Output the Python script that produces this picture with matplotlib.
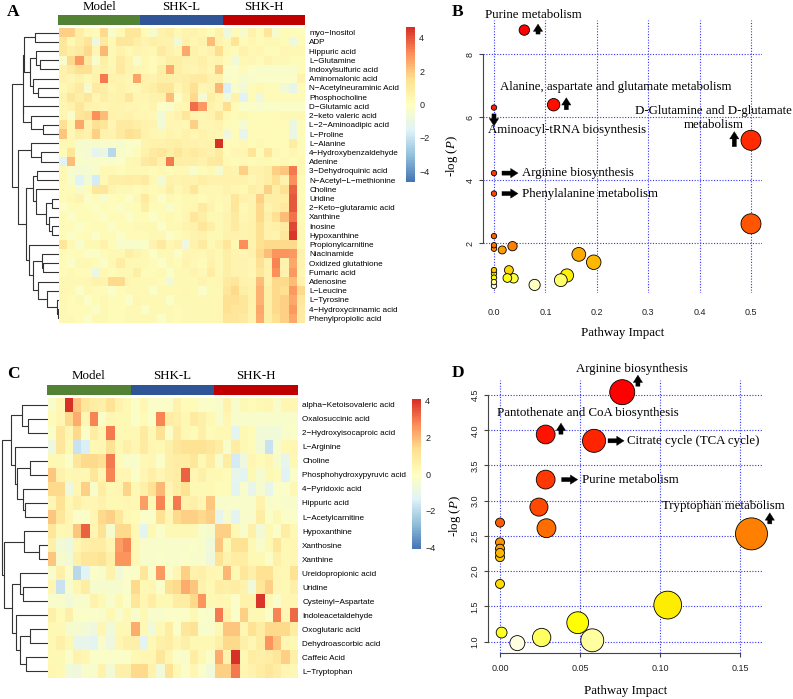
import numpy as np
import matplotlib
matplotlib.use("Agg")
import matplotlib.pyplot as plt
from matplotlib.colors import LinearSegmentedColormap, ListedColormap, hsv_to_rgb
from matplotlib import transforms

plt.rcParams['font.family'] = ['Liberation Sans', 'DejaVu Sans']
plt.rcParams['mathtext.fontset'] = 'custom'
plt.rcParams['mathtext.rm'] = 'Liberation Serif'
plt.rcParams['mathtext.it'] = 'Liberation Serif:italic'

# ---------------- data ----------------
groups = ["Model", "SHK-L", "SHK-H"]
group_colors = ["#548235", "#2F5597", "#C00000"]

a_rows = ["myo-Inositol", "ADP", "Hippuric acid", "L-Glutamine", "Indoxylsulfuric acid",
          "Aminomalonic acid", "N-Acetylneuraminic Acid", "Phosphocholine", "D-Glutamic acid",
          "2-keto valeric acid", "L-2-Aminoadipic acid", "L-Proline", "L-Alanine",
          "4-Hydroxybenzaldehyde", "Adenine", "3-Dehydroquinic acid", "N-Acetyl-L-methionine",
          "Choline", "Uridine", "2-Keto-glutaramic acid", "Xanthine", "Inosine", "Hypoxanthine",
          "Propionylcarnitine", "Niacinamide", "Oxidized glutathione", "Fumaric acid", "Adenosine",
          "L-Leucine", "L-Tyrosine", "4-Hydroxycinnamic acid", "Phenylpropiolic acid"]

a_values = [
    [1.8, 1.8, 0.8, 0.3, 0.2, 1.6, -0.3, 0.3, 1.2, 1.2, 0.2, -0.4, 0.6, 0.8, 0.3, 0.5, 0.6, 0.4, 0.2, 0.6, -0.9, 0.2, -0.4, 0.6, 0.2, 1.2, -0.4, 0.2, 0.1, 0.1],
    [1.2, 0.3, 0.8, 1.3, -0.9, 1.0, 0.3, 1.2, 1.2, 0.8, 0.5, 0.8, 0.6, 0.6, -0.7, 0.6, 0.4, 0.6, 2.2, 0.5, 0.3, 1.3, 0.2, 0.4, 0.2, 0.3, 0.3, 0.2, -0.9, 0.2],
    [1.2, 0.8, 1.0, 1.6, 0.4, 2.3, 0.3, 0.6, 0.3, 0.5, 0.4, 0.3, 1.0, 0.6, 0.4, 2.6, 0.6, 0.4, 0.6, 1.5, 0.3, 0.2, 0.6, 0.3, 0.4, 0.2, 0.2, 0.4, 0.3, 0.3],
    [-0.3, 1.6, 2.8, 1.0, -0.3, 0.8, 0.3, 1.0, 0.5, -0.3, 0.3, 0.2, 0.4, 0.8, 0.8, 0.6, 0.5, 0.7, 0.4, 0.5, 0.2, -0.7, 0.3, 0.4, 0.2, 0.5, 0.3, 0.3, 0.2, 0.2],
    [0.6, 1.0, 1.4, 1.4, 0.5, 0.6, 0.4, 1.1, 0.5, 0.4, 0.3, 0.2, 0.8, 2.6, 0.8, 0.5, 0.4, 0.6, 0.4, 2.0, -0.2, -0.2, 0.2, -0.2, -0.3, -0.3, -0.3, -0.3, -0.3, 0.2],
    [0.6, 0.4, 0.6, 0.3, 0.6, 3.4, 0.6, 0.5, 0.4, 2.7, 0.6, 0.5, 0.8, 0.8, 0.7, 0.8, 1.0, 1.0, 0.6, 0.6, -0.3, -0.2, -0.4, -0.3, -0.2, -0.2, -0.2, -0.2, -0.2, 0.6],
    [0.3, 0.6, 1.0, -0.4, 1.0, 0.8, 0.4, 0.6, 0.4, 0.3, 0.6, 0.8, 1.2, 1.2, 0.4, 0.8, 1.4, 0.4, 0.5, 2.3, -1.6, -0.3, -0.6, 0.2, 0.3, 0.2, 0.2, -0.6, -1.2, 0.2],
    [0.5, 1.2, 0.8, 1.2, 0.4, 0.8, 0.5, 0.6, 1.2, 0.4, 0.4, 0.6, 0.6, 2.2, -0.2, 0.6, 1.6, -0.5, 0.8, 0.4, -0.6, 0.6, -1.4, 0.2, -0.8, 0.2, 0.2, 0.2, 0.2, 0.2],
    [0.4, 0.6, 1.2, 0.6, 0.5, 0.4, 0.5, 0.5, 0.4, 0.4, 0.3, 0.5, -0.2, -0.3, 0.3, 0.4, 3.6, 2.8, 0.6, 0.4, 1.5, 0.2, -0.2, -0.2, -0.3, -0.2, -0.2, -0.2, -0.2, -0.2],
    [0.4, -0.2, 1.2, 1.4, 3.0, 2.2, 0.6, 0.5, 0.6, 0.4, 0.4, 0.3, -0.7, 0.4, 0.6, 1.2, 0.5, 0.4, 0.5, 1.2, 0.3, 0.2, 0.3, 0.2, 0.2, 0.2, 0.2, 0.3, 0.3, 0.3],
    [1.4, 0.3, 2.6, 0.6, 1.4, 1.2, 0.4, 1.0, 1.0, 0.8, 0.6, 0.5, -0.7, 0.4, 0.4, 0.3, 1.8, 0.4, 0.4, 0.5, 0.2, 0.1, -0.5, 0.2, 0.2, 0.2, 0.2, 0.2, -1.0, 0.2],
    [2.0, 0.3, 0.8, 0.6, 1.8, 0.6, 0.5, 1.0, 1.4, 1.3, 0.6, 0.4, 0.3, 0.5, 0.4, 0.6, 0.4, 0.6, 0.4, 0.4, -0.8, 0.2, -1.2, 0.2, 0.2, 0.2, 0.2, 0.2, -1.0, 0.2],
    [0.3, 0.3, -0.4, -0.4, -0.4, -0.3, -0.3, -0.4, -0.2, -0.2, 0.5, 0.6, 0.6, 0.7, 0.8, 0.6, 0.6, 0.5, 0.6, 4.6, 0.2, 0.2, 0.3, 0.2, 0.3, 0.2, 0.2, 0.2, 0.9, 0.2],
    [0.2, 1.2, -0.3, -0.5, -1.3, -1.0, -2.3, -0.3, -0.2, 0.2, 0.6, 1.0, 1.2, 0.8, 1.2, 0.8, 1.0, 0.8, 0.6, 1.0, 0.2, 0.4, 0.4, 1.3, 0.2, 1.2, 0.3, 0.2, 0.4, 0.2],
    [-1.4, 2.2, -0.3, -0.3, -0.3, -0.2, -0.3, -0.2, 0.3, 0.4, 1.0, 1.2, 0.6, 3.4, 0.8, 0.7, 0.8, 0.6, 1.0, 1.1, 0.3, 0.2, 0.3, 0.2, 0.3, 0.3, 0.2, 0.3, 0.2, 0.3],
    [0.3, -0.4, -0.5, -0.5, -0.3, 0.3, 0.3, 0.2, 0.3, 0.3, 0.3, 0.2, 0.3, 0.2, 0.3, 0.3, -0.3, 0.2, 0.3, -0.4, 0.6, 0.5, 1.8, 0.6, 0.6, 0.8, 1.8, 2.0, 3.4, 0.3],
    [0.3, -0.3, -1.4, -0.6, -1.7, 0.3, 0.8, 0.8, 0.9, 0.8, 1.0, 0.3, -0.6, 0.6, 0.5, 0.6, 0.6, 0.8, 0.6, 0.6, 0.6, 0.6, 0.6, 0.4, 0.6, 0.8, 1.4, 0.6, 3.0, 0.2],
    [0.2, 0.2, -0.4, 0.2, 1.2, 1.2, 0.5, 0.3, 0.3, 0.2, 0.3, 0.2, 0.3, 0.8, 0.3, 0.6, 1.2, 0.4, 0.3, 0.4, 0.6, 0.4, 0.3, 0.8, 0.6, 1.8, 0.8, 1.4, 3.8, 0.2],
    [0.2, 0.3, 0.5, -0.2, 0.2, -0.3, 0.1, 0.2, -0.2, 0.3, 1.0, 0.3, -0.2, 0.3, 0.2, 0.3, 0.3, 0.2, 0.4, 0.3, 0.4, 1.2, 0.6, 0.5, 1.8, 0.8, 0.8, 0.9, 4.0, 0.2],
    [-0.2, 0.2, 0.2, 0.1, -0.2, 0.2, 0.1, -0.2, 0.2, 0.2, 0.8, 0.2, 0.2, -0.3, 0.2, 0.3, 0.4, 1.0, 0.5, 0.2, 0.4, 1.2, 0.3, 0.5, 1.6, 0.5, 0.8, 1.1, 4.0, 0.3],
    [0.2, -0.2, 0.2, 0.2, 0.1, -0.2, 0.2, 0.2, -0.2, 0.2, 0.2, -0.2, 0.2, 0.3, 0.2, 0.4, 1.2, 0.8, 0.3, 0.3, 0.5, 1.0, 0.4, 0.5, 1.6, 0.7, 1.4, 2.2, 3.5, 0.2],
    [0.2, 0.2, -0.2, 0.1, 0.2, 0.2, -0.2, 0.2, 0.2, 0.3, 0.3, 0.3, -0.2, 0.3, 0.3, 0.5, 0.6, 1.2, 0.8, 0.3, 0.5, 1.0, 0.5, 0.6, 1.4, 0.6, 0.7, 1.0, 4.2, 0.3],
    [0.2, -0.2, 0.1, 0.2, -0.2, 0.2, 0.2, -0.2, 0.2, 0.2, 0.2, 0.3, 0.3, -0.2, 0.2, 0.3, 0.5, 0.6, 0.3, 0.3, 0.6, 0.6, 0.5, 0.6, 1.4, 0.6, 0.5, 1.2, 4.5, 0.3],
    [1.2, 0.3, -0.3, 0.3, 0.3, 0.6, 0.2, -0.3, -0.3, -0.3, -0.2, 0.5, 1.0, 0.4, 0.6, -0.8, 0.6, 1.0, 0.3, 0.6, 1.2, 0.3, 3.0, 0.5, 1.4, 1.6, 1.6, 1.6, 1.6, 0.3],
    [0.2, 0.1, 0.2, -0.2, -0.2, 0.2, 0.3, 0.3, 0.8, 0.5, 0.3, -0.2, 0.3, 0.3, -0.2, 0.4, 0.4, 0.3, 0.5, 0.3, 0.8, 0.5, 0.4, 0.6, 1.6, 2.2, 2.9, 2.9, 2.8, 0.6],
    [0.2, -0.2, 0.3, 0.3, 0.2, -0.2, 0.3, 0.9, 0.3, 0.3, 0.3, 0.2, -0.2, 0.3, 0.2, 0.5, 0.3, 0.2, 0.6, 0.3, 0.8, 0.5, 0.5, 0.4, 1.4, 0.6, 3.2, 0.6, 2.6, 0.5],
    [0.2, 0.3, 0.2, 0.2, -1.0, 0.3, 0.2, 0.3, 0.3, 0.8, 0.2, 0.2, 0.3, -0.2, 0.3, 0.3, 0.5, 0.3, 0.9, 0.3, 0.8, 0.5, 0.5, 0.4, 1.2, 0.6, 3.0, 0.6, 2.8, 0.4],
    [0.3, 0.3, 0.3, 0.4, 0.6, 0.5, 1.6, 1.6, 0.4, 0.3, 0.3, 0.3, 0.2, -0.7, 0.3, 0.3, 0.3, 0.5, 0.3, 0.4, 1.0, 1.2, 0.6, 0.5, 2.2, 0.6, 1.6, 1.6, 2.2, 0.6],
    [0.4, 0.3, -0.2, 0.3, 0.2, 0.2, -0.2, 0.2, 0.3, 0.3, 0.3, -0.2, 0.3, 0.3, 0.3, 0.4, 0.3, -0.2, 0.3, 0.3, 1.2, 1.6, 0.8, 0.6, 2.4, 0.8, 1.6, 1.4, 2.8, 1.6],
    [0.3, 0.2, 0.3, -0.2, 0.2, 0.3, 0.2, 0.2, -0.2, 0.4, 0.3, 0.3, 0.3, -0.2, 0.3, 0.3, 0.3, 0.3, 0.3, 0.4, 1.4, 1.4, 1.2, 0.6, 2.4, 0.8, 1.6, 1.8, 2.6, 1.2],
    [0.3, 0.2, 0.2, 0.2, -0.2, 0.3, 0.2, 0.2, 0.3, 0.3, -0.2, 0.3, 0.3, 0.3, 0.2, 0.3, 0.3, 0.3, 0.3, 0.4, 1.4, 1.2, 1.2, 0.5, 2.6, 0.8, 1.6, 1.8, 2.8, 1.0],
    [0.3, 0.3, 0.2, -0.2, 0.3, 0.3, 0.2, 0.2, 0.3, 0.3, 0.3, 0.3, -0.2, 0.3, 0.2, 0.3, 0.3, 0.3, 0.3, 0.4, 1.2, 1.2, 1.0, 0.5, 2.5, 0.8, 1.4, 1.8, 2.6, 1.0],
]

# row dendrogram: (left, right, merge height)
a_tree = (((((0, 1, 24), ((2, (3, 4, 19), 23), (5, (6, 7, 21.3), 25.7), 29), 35),
            (8, (9, (10, 11, 15.7), 28.3), 35.7), 36.3),
           ((12, (13, 14, 18.3), 28.3),
            (((15, 16, 22.3), (17, ((18, 19, 7.3), (20, (21, 22, 7.3), 10), 13.3), 23), 25.7),
             (23, ((24, (25, 26, 15.7), 17.3), (27, (28, (29, (30, 31, 1), 1.6), 12.3), 20.7), 25.7), 29.7),
             33), 40.7), 47.3))

c_rows = ["alpha-Ketoisovaleric acid", "Oxalosuccinic acid", "2-Hydroxyisocaproic acid", "L-Arginine",
          "Choline", "Phosphohydroxypyruvic acid", "4-Pyridoxic acid", "Hippuric acid", "L-Acetylcarnitine",
          "Hypoxanthine", "Xanthosine", "Xanthine", "Ureidopropionic acid", "Uridine", "Cysteinyl-Aspartate",
          "Indoleacetaldehyde", "Oxoglutaric acid", "Dehydroascorbic acid", "Caffeic Acid", "L-Tryptophan"]

c_values = [
    [-0.3, 0.4, 4.2, 1.8, 1.0, 0.8, 0.6, 1.2, 0.5, 0.3, -0.2, 0.4, -0.2, -0.2, -0.2, 0.5, 0.2, 0.2, -0.2, -0.2, -0.3, 0.5, -0.3, 0.3, 0.2, 0.3, 0.4, -0.3, 0.4, 0.4],
    [0.2, 0.4, 1.4, 2.2, 0.4, 2.8, -0.2, 0.4, 0.3, 0.3, -0.2, 0.2, -0.2, 2.8, 0.8, 0.6, 0.3, 0.9, 0.6, 0.3, -0.3, 0.4, -0.3, -0.3, -0.3, -0.3, -0.3, -0.3, -0.3, -0.3],
    [-0.2, 1.0, 0.4, 1.4, -0.2, 0.8, 0.4, 3.0, 0.3, 0.3, 0.3, 0.9, 0.3, 1.3, -0.2, 0.9, 0.3, 0.2, 0.6, 0.2, 0.3, 0.3, -1.2, 0.3, 0.2, -0.5, -0.6, -0.6, -0.3, -0.2],
    [-0.8, 1.0, 0.3, -1.8, -1.4, 0.3, 0.4, 1.2, 0.3, 0.6, 0.4, 0.9, 0.4, 0.3, 0.6, 1.0, 1.2, 1.2, 1.2, 1.0, 0.8, -0.3, 0.8, 0.3, 0.2, -0.5, -1.8, -0.3, 0.3, 0.4],
    [0.3, 0.3, -0.2, 1.0, 1.4, 1.4, 1.3, 3.0, 0.2, -0.3, -0.3, 0.3, 0.4, -0.2, 0.6, 0.8, 0.8, 1.0, 0.3, 0.8, -0.3, 0.8, -1.5, -0.8, 0.4, 0.2, 0.4, -0.4, -1.0, 0.3],
    [1.8, 0.5, 0.3, 0.4, 0.3, 1.0, 0.4, 2.8, 0.4, 0.4, -0.2, 0.4, 0.6, 0.4, 0.6, 0.8, 3.3, 0.4, 0.6, 0.3, 0.3, 0.2, -1.0, -1.2, 0.3, -0.4, 0.3, 0.2, -1.3, -0.2],
    [1.4, 1.4, -0.7, 0.4, 1.6, -0.3, 0.8, 0.3, 0.4, 1.5, 0.3, 0.6, 1.2, 2.0, 0.4, 0.8, 1.2, 0.3, 0.3, 0.3, 0.2, 0.2, -1.2, -0.3, -1.0, -0.4, -1.0, -0.2, -0.2, 0.3],
    [0.4, 1.2, 0.3, 0.6, 0.4, 0.4, 0.5, 0.3, 0.3, 0.4, 0.3, 2.4, 0.3, 2.8, 0.2, 3.0, 0.5, 0.6, 0.4, 1.8, -0.3, -0.3, -0.3, -0.3, -0.3, 0.5, -0.3, -0.2, -0.3, -0.3],
    [1.8, 1.0, 0.4, -0.2, -0.2, 0.4, 1.4, 1.6, 1.0, 0.3, 0.2, -0.2, -0.2, 1.2, 0.4, 1.4, 1.6, 1.6, 1.4, 1.6, -1.0, -0.4, -1.2, -0.3, -0.3, 0.8, -0.2, 0.3, -0.2, -0.2],
    [1.0, 0.3, 0.4, 1.8, 3.3, 0.4, 1.2, -0.4, 1.4, 1.4, 0.3, -1.2, 0.3, -0.2, 0.3, 0.3, 0.3, 0.3, -0.3, -0.4, 1.6, 1.6, 0.3, -0.3, 0.6, -0.5, 0.3, -0.2, 0.8, 0.3],
    [0.6, -0.5, -0.8, 0.4, 0.6, 0.8, 0.8, 0.4, 2.4, 2.8, 0.3, -0.3, -0.3, -0.3, -0.3, -0.3, -0.3, -0.2, -0.3, -0.6, 1.8, 0.3, 1.2, 1.2, 0.3, -0.3, 0.3, 1.0, 0.3, 0.4],
    [1.8, -0.4, -0.5, 0.6, 1.0, 1.0, 1.2, 0.6, 2.6, 2.6, 0.3, -0.3, -0.3, -0.2, -0.3, -0.3, -0.2, -0.3, -0.3, -0.7, 1.2, 0.5, 0.8, 0.8, 0.3, 0.3, -0.2, 0.6, 0.3, 0.4],
    [-0.3, 0.6, -0.2, -2.0, -1.3, -0.2, -0.3, 0.5, -0.5, -0.2, -0.2, 1.0, -0.2, 2.5, -0.2, 0.4, 1.6, 0.5, 0.6, 0.4, 0.3, 2.0, 0.3, 1.0, 0.6, 1.2, 1.2, 0.4, 0.3, 1.2],
    [0.4, -1.8, -0.3, 0.4, 0.8, -0.4, -0.4, -0.4, -0.4, -0.2, 1.4, 0.3, 0.4, -0.2, 1.3, 1.4, 2.2, 1.8, 0.5, 0.3, 0.8, 0.6, 0.8, 0.5, -0.6, 1.0, 1.6, 0.4, 0.3, 0.6],
    [-0.3, -0.3, -0.6, -0.3, -0.3, 0.5, 0.3, -0.3, 0.3, -0.2, 1.0, 0.4, 0.8, 0.3, 0.3, 0.8, 0.8, 1.4, 2.6, 0.3, 0.4, 0.3, -0.2, 0.5, 0.5, 4.0, 0.3, -0.3, 0.4, 0.4],
    [0.6, 0.2, 0.6, -0.2, -0.2, -0.2, -0.3, 0.3, -0.3, 0.3, -0.3, 0.3, -0.3, -0.3, -0.2, -0.2, -0.2, 0.3, -0.2, -0.3, 3.0, 0.5, -0.2, 1.6, 0.3, 0.3, -0.2, 2.8, 0.4, 3.2],
    [0.3, 0.3, -0.4, -0.4, -0.5, -0.7, 0.4, -0.6, 0.3, 0.3, 2.2, 0.3, -0.6, 0.3, 0.8, -0.2, 1.0, 1.2, -0.3, -0.3, 0.3, 1.8, 1.8, 0.4, 1.2, 0.8, 1.4, 1.4, 1.4, 0.8],
    [0.3, 0.6, 0.3, -1.0, -1.0, -1.2, -0.3, -0.8, 0.4, 0.6, 0.6, -1.2, 0.3, 0.6, 0.8, 0.4, 0.6, 0.3, 0.3, 0.3, 0.6, 1.4, 1.4, 0.6, 0.4, 0.8, 2.6, 1.8, 0.4, 0.3],
    [0.3, 0.3, -0.2, 0.5, 0.4, -0.2, -0.2, -0.2, -0.2, -0.2, 0.3, 0.4, 0.4, 1.0, 0.4, -0.2, -0.3, 0.8, 0.3, -0.2, 2.2, 0.5, 4.3, 0.3, 0.8, 0.6, 0.8, 1.0, 1.6, 0.6],
    [0.4, 0.3, -0.6, -0.7, -0.3, -0.3, 0.5, -0.5, 0.6, 0.6, 1.4, 1.4, 0.5, -0.6, 1.2, 0.3, -0.2, 0.4, -0.2, -0.6, 1.6, 1.6, 3.0, 0.4, 0.5, 0.8, 1.0, 0.8, 0.4, 0.3],
]

c_tree = ((((0, (1, 2, 20), 26.7), (3, ((4, 5, 18.3), (6, (7, 8, 23.3), 25.7), 31), 33.3), 37.7),
           ((9, (10, 11, 9), 24.3),
            ((12, (13, 14, 25), 28.3), (15, ((16, 17, 18.3), (18, 19, 22.3), 28.3), 32.3), 36.6), 44.3), 46.6))

# pathway analysis B
b_impact = [0.059, 0.116, 0.0, 0.5, 0.0, 0.0, 0.5, 0.0, 0.0, 0.0, 0.016, 0.036, 0.165,
            0.194, 0.0, 0.0, 0.0, 0.0, 0.0, 0.029, 0.026, 0.038, 0.079, 0.130, 0.142]
b_logp = [8.76, 6.39, 6.30, 5.26, 4.22, 3.57, 2.61, 2.22, 1.93, 1.82, 1.78, 1.90, 1.64,
          1.39, 1.14, 1.03, 0.90, 0.76, 0.64, 1.14, 0.89, 0.88, 0.67, 0.82, 0.97]
b_labels = {0: "Purine metabolism", 1: "Alanine, aspartate and glutamate metabolism",
            2: "Aminoacyl-tRNA biosynthesis", 3: "D-Glutamine and D-glutamate\nmetabolism",
            4: "Arginine biosynthesis", 5: "Phenylalanine metabolism"}

# pathway analysis D
d_impact = [0.0763, 0.0285, 0.0587, 0.0285, 0.0243, 0.029, 0.157, 0.0, 0.0, 0.0,
            0.0, 0.0, 0.0, 0.001, 0.0108, 0.026, 0.0485, 0.0576, 0.1047]
d_logp = [4.54, 3.94, 3.85, 3.30, 2.91, 2.61, 2.53, 2.69, 2.41, 2.32,
          2.26, 2.20, 1.82, 1.13, 0.98, 1.06, 1.27, 1.02, 1.52]
d_labels = {0: "Arginine biosynthesis", 1: "Pantothenate and CoA biosynthesis",
            2: "Citrate cycle (TCA cycle)", 3: "Purine metabolism", 6: "Tryptophan metabolism"}

# ---------------- figure ----------------
W, H = 793, 699
fig = plt.figure(figsize=(W / 100, H / 100), dpi=100)
PX = 0.72  # points per pixel
SERIF = "Liberation Serif"


def px_axes(x0, y0, x1, y1):
    return fig.add_axes([x0 / W, 1 - y1 / H, (x1 - x0) / W, (y1 - y0) / H])


heat_cmap = LinearSegmentedColormap.from_list(
    "pheat", ["#4575B4", "#91BFDB", "#E0F3F8", "#FFFFBF", "#FEE090", "#FC8D59", "#D73027"], N=100)


def draw_tree(ax, node):
    if isinstance(node, int):
        return float(node), 0.0
    left, right, h = node
    yl, hl = draw_tree(ax, left)
    yr, hr = draw_tree(ax, right)
    ax.plot([hl, h, h, hr], [yl, yl, yr, yr], color="#333333", lw=0.8, solid_capstyle="butt")
    return (yl + yr) / 2, h


def heatmap_panel(values, rows, tree, box, leaf_x, lim, cbar_box, letter, letter_xy):
    x0, y0, x1, y1 = box
    data = np.array(values)
    n = len(rows)
    ax = px_axes(x0, y0, x1, y1)
    im = ax.imshow(data, cmap=heat_cmap, vmin=-lim, vmax=lim, aspect="auto", interpolation="nearest")
    ax.set_xticks([])
    ax.yaxis.tick_right()
    ax.set_yticks(range(n))
    ax.set_yticklabels([r.replace("-", "\u2212") for r in rows], fontsize=5.9)
    ax.tick_params(axis="y", length=0, pad=3)
    for s in ax.spines.values():
        s.set_visible(False)

    # group bar
    bar = px_axes(x0 - 1, y0 - 13, x1, y0 - 3)
    ncol = data.shape[1]
    per = ncol // len(groups)
    bar.imshow([np.repeat(np.arange(len(groups)), per)], cmap=ListedColormap(group_colors),
               aspect="auto", interpolation="nearest")
    bar.axis("off")
    for k, g in enumerate(groups):
        bar.annotate(g, xy=(k * per + (per - 1) / 2, -0.5), xytext=(0, 8.5 * PX),
                     textcoords="offset points", ha="center", va="center",
                     fontsize=9.3, family=SERIF)

    # dendrogram
    dax = px_axes(0, y0, leaf_x, y1)
    draw_tree(dax, tree)
    dax.set_xlim(leaf_x, 0)
    dax.set_ylim(n - 0.5, -0.5)
    dax.axis("off")

    cax = px_axes(*cbar_box)
    cb = fig.colorbar(im, cax=cax, ticks=[-4, -2, 0, 2, 4])
    cb.outline.set_visible(False)
    cax.tick_params(length=0, labelsize=6.5, pad=3, colors="#222222")

    fig.text(letter_xy[0] / W, 1 - letter_xy[1] / H, letter, fontsize=12.5,
             fontweight="bold", family=SERIF, ha="center", va="center")


heatmap_panel(a_values, a_rows, a_tree, (59, 28, 305, 323), 59, 4.66,
              (406, 27, 415, 182), "A", (13, 12))
heatmap_panel(c_values, c_rows, c_tree, (48, 398, 298, 678), 48.3, 4.1,
              (412, 399, 421, 549), "C", (13, 374))


def heat_colors(n):
    # same scale as R's heat.colors()
    j = n // 4
    i = n - j
    cols = [hsv_to_rgb((h, 1, 1)) for h in np.linspace(0, 1 / 6, i)]
    if j > 0:
        cols += [hsv_to_rgb((1 / 6, s, 1)) for s in np.linspace(1 - 1 / (2 * j), 1 / (2 * j), j)]
    return cols


def arrow(ax, x, y, dx, dy, direction, length):
    tr = transforms.offset_copy(ax.transData, fig=fig, x=dx, y=dy, units="dots")
    ux, uy = {"up": (0, 1), "down": (0, -1), "right": (1, 0)}[direction]
    ax.annotate("", xy=(x, y), xycoords=tr,
                xytext=(-ux * length * PX, -uy * length * PX), textcoords="offset points",
                arrowprops=dict(arrowstyle="simple,head_length=0.75,head_width=0.95,tail_width=0.42",
                                fc="black", ec="black", lw=0.3, shrinkA=0, shrinkB=0,
                                mutation_scale=7),
                annotation_clip=False)


def bubble_panel(box, impact, logp, rmin, rmax, xlim, ylim, xticks, yticks, xfmt, yfmt,
                 labels, label_pos, arrows, letter, letter_xy, show_bottom):
    ax = px_axes(*box)
    impact = np.array(impact)
    logp = np.array(logp)
    cols = heat_colors(len(logp))
    colors = [None] * len(logp)
    for k, idx in enumerate(np.argsort(-logp, kind="stable")):
        colors[idx] = cols[k]
    r = rmin + (rmax - rmin) * np.sqrt(impact / impact.max())
    ax.set_xlim(*xlim)
    ax.set_ylim(*ylim)
    for xt in xticks:
        ax.axvline(xt, color="#3333FF", lw=0.8, ls=(0, (1, 1.5)), zorder=0)
    for yt in yticks:
        ax.axhline(yt, color="#3333FF", lw=0.8, ls=(0, (1, 1.5)), zorder=0)
    order = np.argsort(-r)
    ax.scatter(impact[order], logp[order], s=(2 * r[order] * PX) ** 2,
               c=[colors[i] for i in order], edgecolors="black", linewidths=0.6,
               zorder=3, clip_on=False)

    ax.set_xticks(xticks)
    ax.set_xticklabels([xfmt % v for v in xticks])
    ax.set_yticks(yticks)
    ax.set_yticklabels([yfmt % v for v in yticks], rotation=90, va="center")
    for s in ["top", "right"]:
        ax.spines[s].set_visible(False)
    ax.spines["left"].set_bounds(yticks[0], yticks[-1])
    ax.spines["left"].set_color("#444444")
    if show_bottom:
        ax.spines["bottom"].set_bounds(xticks[0], xticks[-1])
        ax.spines["bottom"].set_color("#444444")
        ax.tick_params(axis="x", length=3, pad=5, colors="#444444")
    else:
        ax.spines["bottom"].set_visible(False)
        ax.tick_params(axis="x", length=0, pad=11, colors="#444444")
    ax.tick_params(axis="y", length=3, pad=3, colors="#444444")
    ax.tick_params(labelsize=6.5, labelcolor="#222222")

    ax.set_xlabel("Pathway Impact", fontsize=9.3, family=SERIF)
    ax.set_ylabel("-log ($\\mathit{P}$)", fontsize=9.3, family=SERIF)

    for i, txt in labels.items():
        dx, dy, ha = label_pos[i]
        ax.annotate(txt, xy=(impact[i], logp[i]), xytext=(dx * PX, dy * PX),
                    textcoords="offset points", ha=ha, va="center", multialignment="center",
                    fontsize=9.3, family=SERIF, linespacing=1.25, annotation_clip=False, zorder=5)
    for i, (dx, dy, direction, length) in arrows.items():
        arrow(ax, impact[i], logp[i], dx, dy, direction, length)

    fig.text(letter_xy[0] / W, 1 - letter_xy[1] / H, letter, fontsize=12.5,
             fontweight="bold", family=SERIF, ha="center", va="center")
    return ax


axB = bubble_panel((483.2, 20, 762.3, 292.8), b_impact, b_logp, 2.7, 10.0,
                   (-0.021, 0.522), (0.42, 9.08), [0, 0.1, 0.2, 0.3, 0.4, 0.5], [2, 4, 6, 8],
                   "%.1f", "%d", b_labels,
                   {0: (8.7, 15, "center"), 1: (61.7, 18, "center"), 2: (73, -22.3, "center"),
                    3: (-37.7, 22.7, "center"), 4: (28, 0, "left"), 5: (28, 0, "left")},
                   {0: (13.7, 6, "up", 10), 1: (12.7, 7, "up", 12), 2: (0, -18.3, "down", 12),
                    3: (-16.7, 8.7, "up", 15), 4: (24, 0, "right", 16), 5: (24, 0, "right", 16)},
                   "B", (458, 12), False)
axB.xaxis.set_label_coords(0.5, -0.147)
axB.xaxis.label.set_va("center")
axB.yaxis.set_label_coords(-0.112, 0.5)
axB.yaxis.label.set_va("center")

axD = bubble_panel((488, 379.5, 762.7, 653), d_impact, d_logp, 4.5, 16.0,
                   (-0.0075, 0.164), (0.84, 4.72), [0, 0.05, 0.10, 0.15],
                   [1.0, 1.5, 2.0, 2.5, 3.0, 3.5, 4.0, 4.5],
                   "%.2f", "%.1f", d_labels,
                   {0: (9.7, 23, "center"), 1: (42, 21.6, "center"), 2: (32.7, 0, "left"),
                    3: (36, 0, "left"), 6: (-27.7, 28.3, "center")},
                   {0: (15.7, 17, "up", 11), 1: (15.3, 11.3, "up", 11), 2: (30, 0, "right", 16),
                    3: (32, 0, "right", 16), 6: (18.3, 21, "up", 11)},
                   "D", (458, 373), True)
axD.xaxis.set_label_coords(0.5, -0.139)
axD.xaxis.label.set_va("center")
axD.yaxis.set_label_coords(-0.12, 0.5)
axD.yaxis.label.set_va("center")

fig.savefig("out.png", dpi=100, facecolor="white")
